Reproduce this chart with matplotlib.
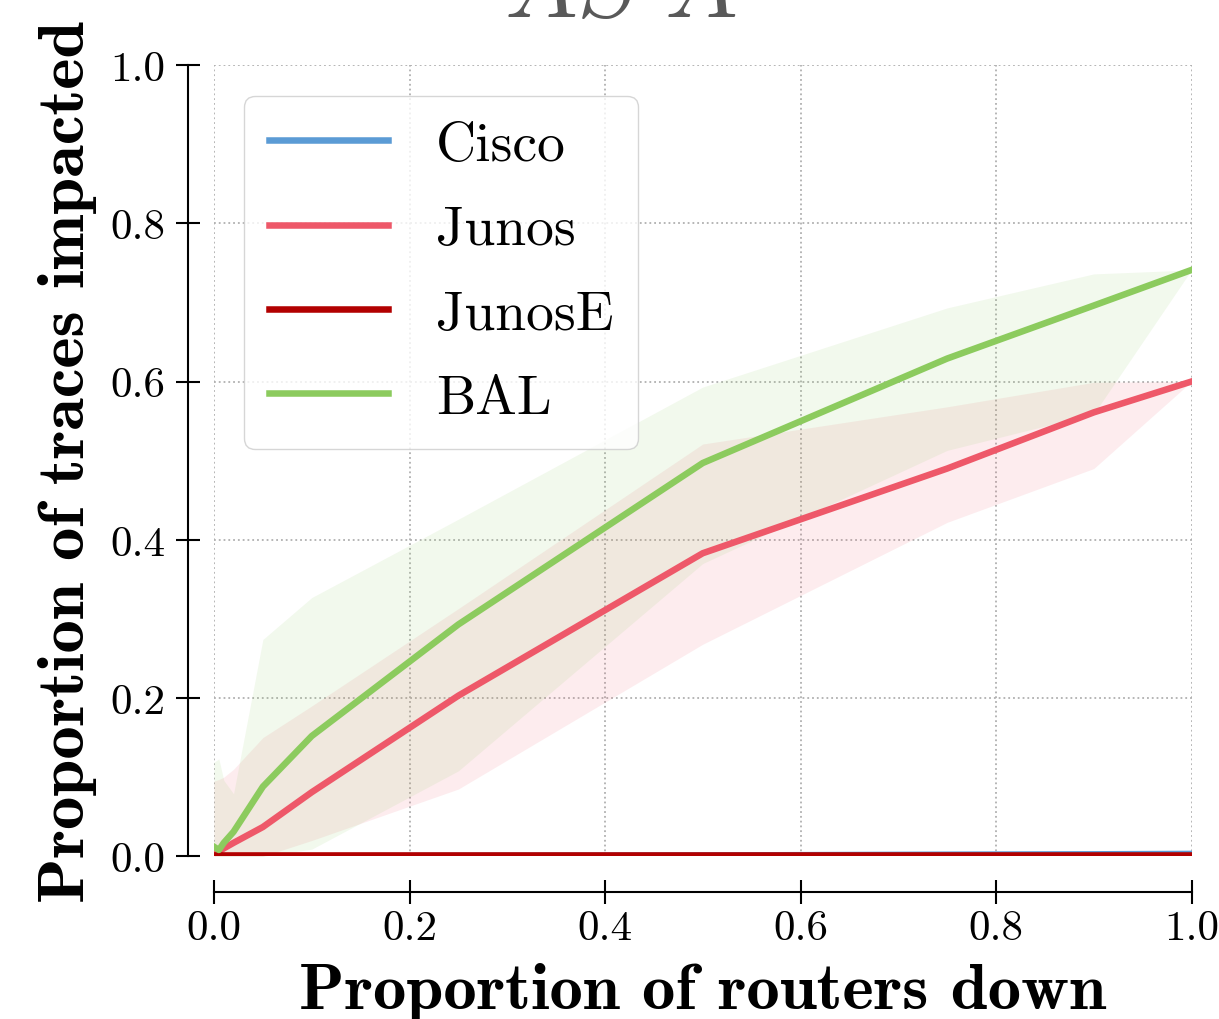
import numpy as np
import matplotlib
matplotlib.use("Agg")
import matplotlib.pyplot as plt

# ---------------
# Data
# ---------------

x = [0.0, 0.005, 0.01, 0.02, 0.05, 0.1, 0.25, 0.5, 0.75, 0.9, 1.0]

cisco = [0.0, 0.0, 0.0, 0.0, 0.0, 0.0, 0.0005, 0.001, 0.002, 0.0025, 0.003]
junos = [0.004, 0.006, 0.01, 0.017, 0.037, 0.081, 0.203, 0.383, 0.49, 0.561, 0.6]
junos_lo = [0.0, 0.0, 0.0, 0.0, 0.0, 0.02, 0.085, 0.268, 0.422, 0.49, 0.6]
junos_hi = [0.095, 0.097, 0.10, 0.11, 0.15, 0.19, 0.313, 0.521, 0.568, 0.599, 0.6]
junose = [0.0] * len(x)
bal = [0.012, 0.008, 0.017, 0.031, 0.088, 0.152, 0.293, 0.497, 0.629, 0.696, 0.741]
bal_lo = [0.0, 0.0, 0.0, 0.0, 0.0, 0.009, 0.108, 0.37, 0.513, 0.559, 0.741]
bal_hi = [0.119, 0.123, 0.096, 0.079, 0.274, 0.327, 0.426, 0.593, 0.693, 0.736, 0.741]

labels = ["Cisco", "Junos", "JunosE", "BAL"]
colors = ["#5b9bd5", "#ee5869", "#b20000", "#8ccb5e"]

ticks = [0.0, 0.2, 0.4, 0.6, 0.8, 1.0]
tick_labels = ["0.0", "0.2", "0.4", "0.6", "0.8", "1.0"]

# ---------------
# Style
# ---------------

plt.rcParams["font.family"] = "cmr10"
plt.rcParams["mathtext.fontset"] = "cm"
plt.rcParams["axes.unicode_minus"] = False

dpi = 100
fig = plt.figure(figsize=(12.19, 10.20), dpi=dpi)
ax = fig.add_axes([214 / 1219, 1 - 857.3 / 1020, 977.5 / 1219, 791.3 / 1020])

lw = 4.7

ax.plot(x, cisco, color=colors[0], lw=lw, label=labels[0], zorder=3)
ax.fill_between(x, junos_lo, junos_hi, color=colors[1], alpha=0.11, lw=0, zorder=2)
ax.plot(x, junos, color=colors[1], lw=lw, label=labels[1], zorder=3)
ax.plot(x, junose, color=colors[2], lw=lw + 1.5, label=labels[2], zorder=3)
ax.fill_between(x, bal_lo, bal_hi, color=colors[3], alpha=0.11, lw=0, zorder=2)
ax.plot(x, bal, color=colors[3], lw=lw, label=labels[3], zorder=3)

ax.set_xlim(0, 1)
ax.set_ylim(0, 1)
ax.set_xticks(ticks)
ax.set_xticklabels(tick_labels)
ax.set_yticks(ticks)
ax.set_yticklabels(tick_labels)

ax.grid(True, color="#b0b0b0", ls=":", lw=1.3, zorder=0)
ax.set_axisbelow(True)

# detached spines, seaborn-despine look
for s in ["top", "right"]:
    ax.spines[s].set_visible(False)
ax.spines["left"].set_position(("outward", 26 * 72 / dpi))
ax.spines["bottom"].set_position(("outward", 36 * 72 / dpi))
for s in ["left", "bottom"]:
    ax.spines[s].set_linewidth(1.5)
ax.tick_params(axis="both", direction="inout", length=17, width=1.5,
               labelsize=31)
ax.tick_params(axis="x", pad=4)
ax.tick_params(axis="y", pad=8)

bold = {"family": "cmb10", "size": 48}
ax.set_xlabel("Proportion of routers down", fontdict=bold, labelpad=11)
ax.set_ylabel("Proportion of traces impacted", fontdict=bold, labelpad=9)

fig.text(621 / 1219, 1 - 17 / 1020, r"$AS\ A$", fontsize=70, color="#595959",
         ha="center", va="baseline")

leg = ax.legend(loc="upper left", bbox_to_anchor=(30 / 977.5, 1 - 31 / 791.3),
                borderaxespad=0, fontsize=40, frameon=True, fancybox=True,
                framealpha=0.8, edgecolor="#cccccc", handlelength=2.15,
                handletextpad=0.85, labelspacing=0.62, borderpad=0.45)
for line in leg.get_lines():
    line.set_linewidth(lw)

fig.savefig("out.png", dpi=dpi)
